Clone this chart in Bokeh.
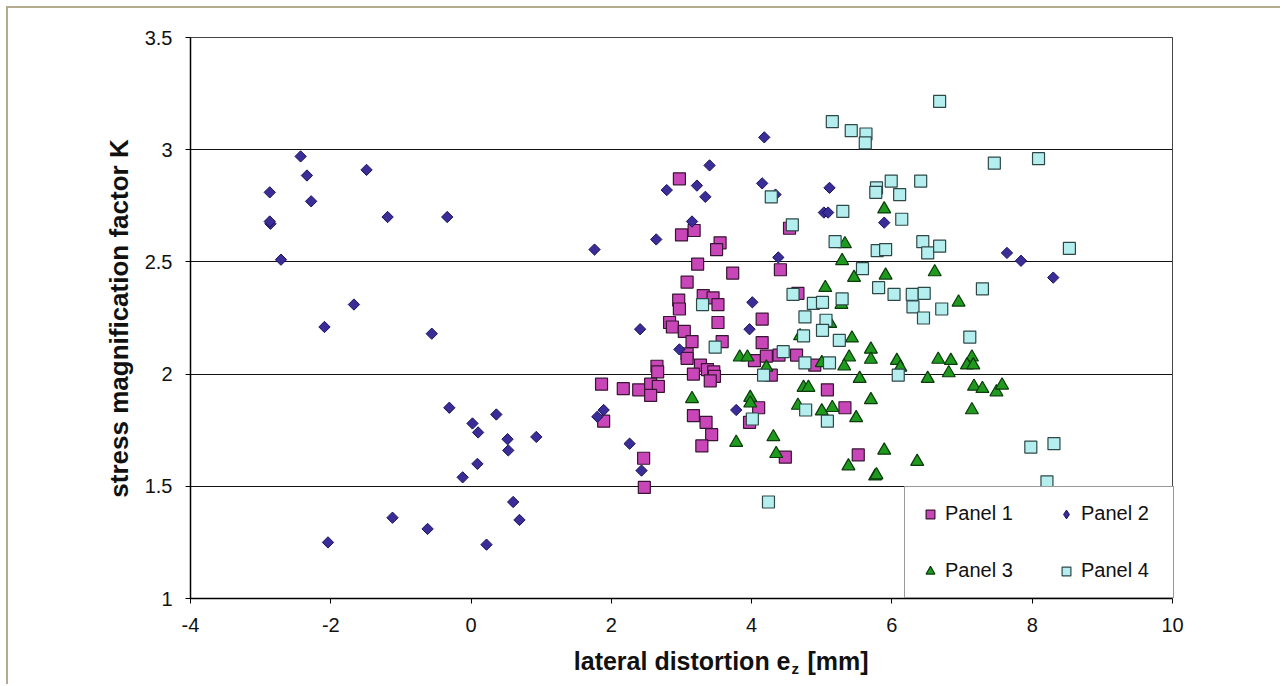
import math
from bokeh.plotting import figure
from bokeh.models import (Range1d, FixedTicker, NumeralTickFormatter, Legend, LegendItem, Label, LinearAxis)
from bokeh.embed import file_html
from bokeh.resources import INLINE

# ---- data ----
p1_x = [2.97, 3.00, 3.18, 3.55, 3.50, 4.54, 3.23, 4.41, 3.73, 3.08, 2.96, 2.97, 3.31, 3.45, 3.52, 4.66, 4.15, 3.52,
        2.83, 2.87, 3.04, 3.15, 3.58, 4.15, 3.08, 3.08, 2.65, 2.66, 3.27, 3.37, 3.46, 3.47, 4.04, 4.21, 4.39, 4.64,
        4.90, 3.17, 4.28, 3.41, 1.86, 2.17, 2.39, 2.56, 2.67, 2.56, 1.89, 3.17, 3.35, 3.43, 3.29, 2.46, 2.47, 4.10,
        3.97, 4.48, 5.08, 5.33, 5.52]
p1_y = [2.87, 2.62, 2.64, 2.585, 2.555, 2.65, 2.49, 2.465, 2.45, 2.41, 2.33, 2.29, 2.35, 2.34, 2.31, 2.36, 2.245, 2.23,
        2.23, 2.21, 2.19, 2.145, 2.145, 2.14, 2.09, 2.07, 2.035, 2.01, 2.04, 2.02, 2.01, 1.99, 2.06, 2.08, 2.085, 2.085,
        2.04, 2.00, 1.995, 1.97, 1.955, 1.935, 1.93, 1.955, 1.945, 1.905, 1.79, 1.815, 1.785, 1.73, 1.68, 1.625, 1.495,
        1.85, 1.785, 1.63, 1.93, 1.85, 1.64]

p2_x = [-2.43, -2.34, -2.87, -2.28, -2.86, -2.87, -1.49, -1.19, -0.34, -2.71, -1.67, -2.09, -0.56, -0.31, 0.02, 0.36,
        0.10, 0.52, 0.93, 0.53, 0.09, -0.12, 0.60, 0.69, -1.12, -0.62, 0.22, -2.04, 1.76, 2.79, 3.22, 3.34, 3.40, 4.15,
        4.34, 4.18, 5.11, 5.03, 5.09, 3.15, 2.64, 4.38, 4.01, 2.41, 3.97, 2.97, 1.89, 1.80, 2.26, 2.43, 3.78, 5.89,
        7.64, 7.84, 8.30]
p2_y = [2.97, 2.885, 2.81, 2.77, 2.67, 2.68, 2.91, 2.70, 2.70, 2.51, 2.31, 2.21, 2.18, 1.85, 1.78, 1.82, 1.74, 1.71,
        1.72, 1.66, 1.60, 1.54, 1.43, 1.35, 1.36, 1.31, 1.24, 1.25, 2.555, 2.82, 2.84, 2.79, 2.93, 2.85, 2.80, 3.055,
        2.83, 2.72, 2.72, 2.68, 2.60, 2.52, 2.32, 2.20, 2.20, 2.11, 1.84, 1.81, 1.69, 1.57, 1.84, 2.675, 2.54, 2.505,
        2.43]

p3_x = [5.89, 5.33, 5.29, 5.46, 5.91, 6.61, 5.05, 5.28, 6.95, 5.12, 4.69, 5.43, 5.70, 5.70, 5.39, 5.32, 3.83, 3.94,
        4.21, 5.00, 5.54, 3.15, 3.98, 3.98, 4.74, 4.81, 4.66, 5.00, 5.15, 5.49, 5.70, 3.78, 4.31, 4.35, 5.38, 5.76,
        6.07, 6.12, 6.66, 6.84, 7.14, 7.07, 7.16, 6.51, 6.81, 7.17, 7.29, 7.49, 7.57, 7.14, 5.89, 6.36, 5.78]
p3_y = [2.735, 2.58, 2.505, 2.43, 2.44, 2.455, 2.385, 2.31, 2.32, 2.225, 2.17, 2.16, 2.11, 2.065, 2.075, 2.035, 2.075,
        2.075, 2.03, 2.05, 1.98, 1.89, 1.895, 1.87, 1.94, 1.94, 1.86, 1.835, 1.85, 1.805, 1.885, 1.695, 1.72, 1.645,
        1.59, 1.545, 2.06, 2.03, 2.065, 2.06, 2.075, 2.04, 2.04, 1.98, 2.005, 1.945, 1.935, 1.92, 1.95, 1.84, 1.66,
        1.61, 1.55]

p4_x = [6.68, 5.15, 5.42, 5.63, 5.62, 7.46, 8.09, 5.99, 6.41, 5.78, 5.77, 6.11, 6.14, 4.28, 5.30, 4.58, 5.19, 6.44,
        6.51, 6.68, 5.79, 5.91, 8.53, 5.58, 5.81, 6.03, 6.29, 6.46, 7.29, 6.30, 6.71, 6.45, 7.11, 6.09, 7.98, 8.31,
        8.21, 4.59, 4.88, 5.01, 5.29, 4.76, 5.06, 5.01, 4.74, 5.25, 4.45, 4.76, 5.11, 3.30, 3.48, 4.17, 4.01, 4.77,
        5.08, 4.24]
p4_y = [3.215, 3.125, 3.085, 3.07, 3.03, 2.94, 2.96, 2.86, 2.86, 2.83, 2.81, 2.80, 2.69, 2.79, 2.725, 2.665, 2.59,
        2.59, 2.54, 2.57, 2.55, 2.555, 2.56, 2.47, 2.385, 2.355, 2.355, 2.36, 2.38, 2.30, 2.29, 2.25, 2.165, 1.995,
        1.675, 1.69, 1.52, 2.355, 2.315, 2.32, 2.335, 2.255, 2.24, 2.195, 2.17, 2.15, 2.10, 2.05, 2.05, 2.31, 2.12,
        1.995, 1.80, 1.84, 1.79, 1.43]

series_names = ["Panel 1", "Panel 2", "Panel 3", "Panel 4"]
x_ticks = [-4, -2, 0, 2, 4, 6, 8, 10]
y_ticks = [1, 1.5, 2, 2.5, 3, 3.5]
x_min, x_max = -4, 10
y_min, y_max = 1, 3.5
x_title = "lateral distortion e"
x_title_sub = "z"
x_title_unit = "[mm]"
y_title = "stress magnification factor K"

FONT = "Liberation Sans"
INK = "#111111"

# The drawing frame is larger than the data area (-4..10, 1..3.5) so that tick labels and axis
# titles (the x title needs a subscript) can be drawn as labels; axes sit at fixed data locations.
PX_X = (1172 - 190) / 14.0      # px per x unit
PX_Y = (598 - 37) / 2.5         # px per y unit
view_x = (x_min - 95 / PX_X, x_max + 23 / PX_X)
view_y = (y_min - 84 / PX_Y, y_max + 17 / PX_Y)

p = figure(width=1274, height=678, output_backend="svg", toolbar_location=None,
           x_range=Range1d(*view_x), y_range=Range1d(*view_y),
           min_border_left=87, min_border_right=87, min_border_top=12, min_border_bottom=4,
           background_fill_color="white", border_fill_color="white",
           styles={"margin-left": "6px", "margin-top": "6px",
                   "border-left": "2px solid #b4ab8e", "border-top": "2px solid #b4ab8e"})
p.title.visible = False
p.outline_line_color = None

p.xgrid.visible = False
yg = p.ygrid[0]
if "cross_bounds" in yg.properties():
    yg.ticker = FixedTicker(ticks=y_ticks)
    yg.cross_bounds = (x_min, x_max)
    yg.grid_line_color = INK
    yg.grid_line_width = 1
else:
    yg.visible = False
    p.segment(x0=[x_min] * len(y_ticks), y0=y_ticks, x1=[x_max] * len(y_ticks), y1=y_ticks,
              line_color=INK, line_width=1, level="underlay")

xa = p.xaxis[0]
ya = p.yaxis[0]
for ax in (xa, ya):
    ax.axis_line_color = "black"
    ax.axis_line_width = 1.5
    ax.major_tick_line_color = "black"
    ax.major_tick_in = 0
    ax.major_tick_out = 5
    ax.minor_tick_line_color = None
    ax.major_label_text_font = FONT
    ax.major_label_text_font_size = "20px"
    ax.major_label_text_color = INK

xa.ticker = FixedTicker(ticks=x_ticks)
ya.ticker = FixedTicker(ticks=y_ticks)
xa.formatter = NumeralTickFormatter(format="0")
ya.formatter = NumeralTickFormatter(format="0.[0]")
xa.fixed_location = y_min
xa.bounds = (x_min, x_max)
ya.fixed_location = x_min
ya.bounds = (y_min, y_max)
xa.major_label_standoff = 14
ya.major_label_standoff = 13

# right and top frame lines
right_ax = LinearAxis(ticker=FixedTicker(ticks=[]), fixed_location=x_max, bounds=(y_min, y_max),
                      axis_line_color="#444444", axis_line_width=1,
                      major_tick_line_color=None, minor_tick_line_color=None)
p.add_layout(right_ax, "right")
top_ax = LinearAxis(ticker=FixedTicker(ticks=[]), fixed_location=y_max, bounds=(x_min, x_max),
                    axis_line_color="#444444", axis_line_width=1,
                    major_tick_line_color=None, minor_tick_line_color=None)
p.add_layout(top_ax, "above")

r1 = p.scatter(p1_x, p1_y, marker="square", size=12, fill_color="#c846b8", line_color="#3a1434", line_width=1.2)
r2 = p.scatter(p2_x, p2_y, marker="square", angle=math.pi / 4, size=8, fill_color="#3b2d98", line_color="#1c1460",
               line_width=1)
r3 = p.scatter(p3_x, p3_y, marker="triangle", size=13, fill_color="#1f9a1f", line_color="#0b3a0b", line_width=1.2)
r4 = p.scatter(p4_x, p4_y, marker="square", size=12, fill_color="#b4eeee", line_color="#2e4848", line_width=1.2)
# legend key for the diamond symbol (draws no point in the plot)
r2_key = p.scatter(x=[float("nan")], y=[float("nan")], marker="diamond", size=10, fill_color="#3b2d98",
                   line_color="#1c1460", line_width=1)

legend = Legend(items=[LegendItem(label=series_names[0], renderers=[r1]),
                       LegendItem(label=series_names[1], renderers=[r2_key]),
                       LegendItem(label=series_names[2], renderers=[r3]),
                       LegendItem(label=series_names[3], renderers=[r4])],
                orientation="horizontal", ncols=2, location=(809, 84), margin=0, padding=14,
                spacing=32, glyph_width=22, glyph_height=22, label_width=78, label_height=25, label_standoff=4,
                label_text_font=FONT, label_text_font_size="20px", label_text_color=INK,
                border_line_color="#333333", border_line_width=1, background_fill_color="white",
                background_fill_alpha=1)
p.add_layout(legend)

# x axis title with subscript (below the x axis)
lab_y = y_min - 62 / PX_Y
p.add_layout(Label(x=x_min + 600 / PX_X, y=lab_y, text=x_title, text_align="right", text_baseline="middle",
                   text_font=FONT, text_font_style="bold", text_font_size="25px", text_color=INK))
p.add_layout(Label(x=x_min + 601 / PX_X, y=y_min - 70 / PX_Y, text=x_title_sub, text_align="left",
                   text_baseline="middle", text_font=FONT, text_font_style="bold", text_font_size="15px",
                   text_color=INK))
p.add_layout(Label(x=x_min + 617 / PX_X, y=lab_y, text=x_title_unit, text_align="left", text_baseline="middle",
                   text_font=FONT, text_font_style="bold", text_font_size="25px", text_color=INK))

# y axis title (left of the y axis)
p.add_layout(Label(x=x_min - 72 / PX_X, y=y_max - 281 / PX_Y, text=y_title, angle=math.pi / 2,
                   text_align="center", text_baseline="middle", text_font=FONT, text_font_style="bold",
                   text_font_size="26px", text_color=INK))

open("out.html", "w").write(file_html(p, INLINE))
